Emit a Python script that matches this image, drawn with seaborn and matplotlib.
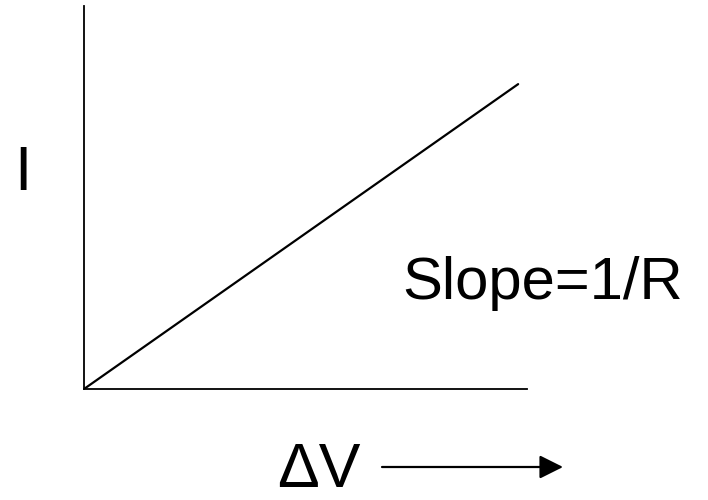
import matplotlib
matplotlib.use("Agg")
import matplotlib.pyplot as plt
import seaborn as sns
import pandas as pd

# Data (schematic I-V line)
delta_v = [0.0, 9.8]
current = [0.0, 7.96]
x_label = "ΔV"
y_label = "I"
annotation = "Slope=1/R"

sns.set_style("white")
plt.rcParams['font.family'] = ['Liberation Sans', 'DejaVu Sans']
plt.rcParams['text.color'] = 'black'

W, H = 708, 500
fig = plt.figure(figsize=(W / 100, H / 100), dpi=100)
ax = fig.add_axes([84 / W, 1 - 389 / H, 443 / W, 383 / H])

df = pd.DataFrame({"dv": delta_v, "i": current})
sns.lineplot(data=df, x="dv", y="i", ax=ax, color="black", linewidth=1.6)

ax.set_xlim(0, 10)
ax.set_ylim(0, 10)
ax.set_xticks([])
ax.set_yticks([])
ax.set_xlabel("")
ax.set_ylabel("")
for s in ["top", "right"]:
    ax.spines[s].set_visible(False)
for s in ["left", "bottom"]:
    ax.spines[s].set_color("black")
    ax.spines[s].set_linewidth(1.3)

fig.text(14 / W, 1 - 190 / H, y_label, fontsize=45, ha="left", va="baseline", color="black")
fig.text(402 / W, 1 - 299 / H, annotation, fontsize=43, ha="left", va="baseline", color="black")
fig.text(277 / W, 1 - 487 / H, x_label, fontsize=45, ha="left", va="baseline", color="black")

ax.annotate("", xy=(563, H - 467), xytext=(382, H - 467),
            xycoords="figure pixels", textcoords="figure pixels",
            arrowprops=dict(arrowstyle="-|>,head_length=0.8,head_width=0.4",
                            mutation_scale=18, color="black", lw=1.6,
                            shrinkA=0, shrinkB=0))

fig.savefig("out.png", dpi=100)
